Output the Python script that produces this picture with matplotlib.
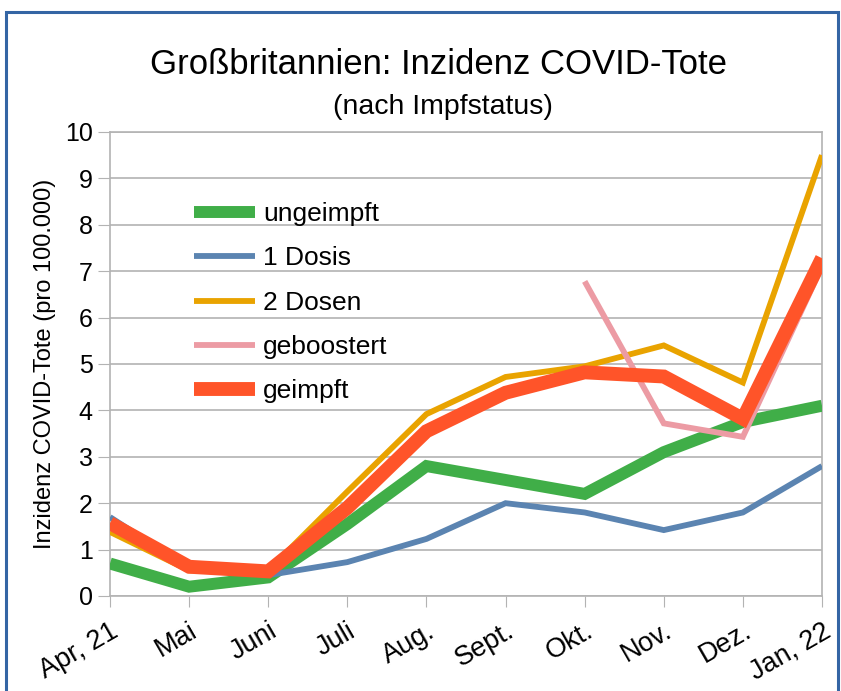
import matplotlib
matplotlib.use("Agg")
import matplotlib.pyplot as plt
from matplotlib.patches import Rectangle

months = ["Apr, 21", "Mai", "Juni", "Juli", "Aug.", "Sept.", "Okt.", "Nov.", "Dez.", "Jan, 22"]
ungeimpft = [0.7, 0.2, 0.4, 1.55, 2.8, 2.5, 2.2, 3.1, 3.75, 4.1]
dosis1 = [1.7, 0.6, 0.45, 0.73, 1.23, 2.0, 1.8, 1.42, 1.8, 2.8]
dosen2 = [1.38, 0.55, 0.55, 2.25, 3.92, 4.72, 4.95, 5.4, 4.6, 9.5]
geboostert_months = ["Okt.", "Nov.", "Dez.", "Jan, 22"]
geboostert = [6.78, 3.72, 3.43, 7.1]
geimpft = [1.57, 0.63, 0.53, 1.9, 3.55, 4.38, 4.82, 4.73, 3.82, 7.28]

plt.rcParams.update({
    "font.family": ["Liberation Sans", "DejaVu Sans"],
    "font.size": 18,
    "lines.solid_capstyle": "butt",
})

fig = plt.figure(figsize=(8.41, 6.91), dpi=100)
ax = fig.add_axes([0.1308, 0.1375, 0.8466, 0.6715])

x = list(range(len(months)))
xb = [months.index(m) for m in geboostert_months]

ax.plot(x, ungeimpft, color="#40ae48", lw=8.6, label="ungeimpft", zorder=3, solid_joinstyle="miter")
ax.plot(x, dosis1, color="#5b84b1", lw=4.2, label="1 Dosis", zorder=3, solid_joinstyle="miter")
ax.plot(x, dosen2, color="#e9a300", lw=4.2, label="2 Dosen", zorder=3, solid_joinstyle="miter")
ax.plot(xb, geboostert, color="#ec9ba4", lw=4.2, label="geboostert", zorder=3, solid_joinstyle="miter")
ax.plot(x, geimpft, color="#ff5429", lw=10, label="geimpft", zorder=4, solid_joinstyle="miter")

ax.set_xlim(0, len(months) - 1)
ax.set_ylim(0, 10)
ax.set_yticks(range(0, 11))
ax.set_xticks(x)
ax.set_xticklabels(months, rotation=30, ha="right", rotation_mode="anchor")
ax.tick_params(axis="x", length=8, color="#b3b3b3", pad=8, labelsize=19.5)
ax.tick_params(axis="y", length=8.5, color="#b3b3b3", pad=4, labelsize=18)
ax.grid(axis="y", color="#b3b3b3", lw=1.2)
ax.set_axisbelow(True)
for s in ax.spines.values():
    s.set_color("#b3b3b3")
    s.set_linewidth(1.2)

ax.set_ylabel("Inzidenz COVID-Tote (pro 100.000)", fontsize=17, labelpad=6)

fig.text(0.5214, 0.907, "Großbritannien: Inzidenz COVID-Tote", ha="center", va="center", fontsize=25)
fig.text(0.527, 0.845, "(nach Impfstatus)", ha="center", va="center", fontsize=20.5)

leg = ax.legend(loc="upper left", bbox_to_anchor=(0.085, 0.90), frameon=False,
                fontsize=19, handlelength=2.3, handletextpad=0.3, labelspacing=0.77)

fig.patches.append(Rectangle((0.007, -0.1), 0.9895, 1.083, transform=fig.transFigure,
                             fill=False, edgecolor="#3465a4", lw=2.2))

fig.savefig("out.png", dpi=100)
